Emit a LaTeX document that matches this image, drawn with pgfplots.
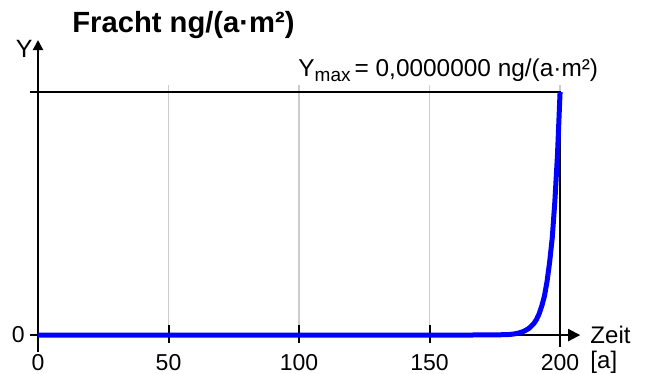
\documentclass[border=0pt]{standalone}
\usepackage{pgfplots}
\pgfplotsset{compat=1.18}
\usepackage{fontspec}
\setmainfont{Liberation Sans}
\usetikzlibrary{arrows.meta}
\begin{document}
\begin{tikzpicture}
\begin{axis}[
  scale only axis, width=275.35bp, height=156.75bp,
  xmin=-3, xmax=208, ymin=-0.07, ymax=1.22,
  hide axis, clip=false]
\path (axis cs:-14.56,-0.1523) rectangle (axis cs:233.3,1.3786);
\pgfplotsinvokeforeach{50,100,150,200}{\draw[black!20, line width=0.75bp] (axis cs:#1,0) -- (axis cs:#1,1.03);}
\pgfplotsinvokeforeach{50,100,150}{\draw[black, line width=1bp] (axis cs:#1,0.04) -- (axis cs:#1,-0.033);}
\draw[line width=1bp, -{Triangle[length=5bp,width=5bp]}] (axis cs:0,-0.07) -- (axis cs:0,1.214);
\draw[line width=1bp, -{Triangle[length=6bp,width=6bp]}] (axis cs:-3,0) -- (axis cs:207.7,0);
\draw[line width=1bp] (axis cs:-3,1) -- (axis cs:200,1) -- (axis cs:200,-0.05);
\addplot[color={rgb,255:red,0;green,0;blue,255}, line width=2.5bp, no marks] coordinates {
(0,0) (20,0) (40,0) (60,0) (80,0) (100,0) (120,0) (140,0) (160,0) (170,0.0005) (176,0.001)
(180,0.002) (182,0.004) (184,0.008) (186,0.015) (188,0.027) (190,0.048)
(191,0.065) (192,0.088) (193,0.12) (194,0.16) (195,0.22) (196,0.30)
(197,0.40) (198,0.55) (199,0.74) (200,1.0)};
\node[anchor=base west, font=\fontsize{14.6bp}{17bp}\selectfont\bfseries, inner sep=0pt] at (axis cs:13,1.243) {Fracht ng/(a·m²)};
\node[anchor=base east, font=\fontsize{12.5bp}{14bp}\selectfont, inner sep=0pt] at (axis cs:-1.9,1.144) {Y};
\node[anchor=base west, font=\fontsize{12.2bp}{14bp}\selectfont, inner sep=0pt] at (axis cs:99.6,1.062) {Y\raisebox{-0.35ex}{\fontsize{9.5bp}{10bp}\selectfont max}\,= 0,0000000 ng/(a·m²)};
\node[anchor=east, font=\fontsize{11.5bp}{14bp}\selectfont, inner sep=0pt] at (axis cs:-5,0) {0};
\pgfplotsinvokeforeach{0,50,100,150,200}{\node[anchor=north, font=\fontsize{11.5bp}{14bp}\selectfont, inner sep=0pt] at (axis cs:#1,-0.076) {#1};}
\node[anchor=west, font=\fontsize{12bp}{14bp}\selectfont, inner sep=0pt] at (axis cs:211.5,0) {Zeit};
\node[anchor=base west, font=\fontsize{12bp}{14bp}\selectfont, inner sep=0pt] at (axis cs:211.5,-0.136) {[a]};
\end{axis}
\end{tikzpicture}
\end{document}
